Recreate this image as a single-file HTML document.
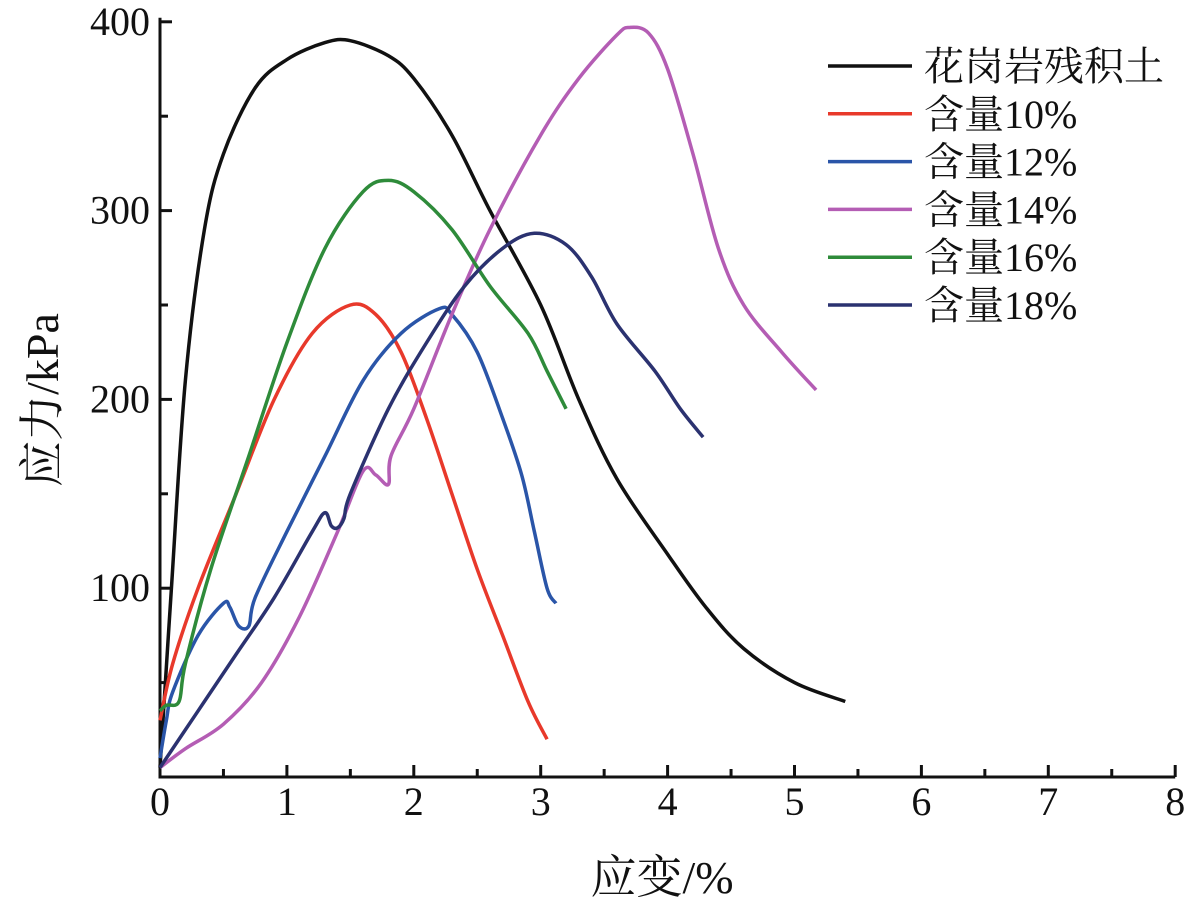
<!DOCTYPE html>
<html><head><meta charset="utf-8"><style>
body{margin:0;background:#fff}
svg{display:block}
text{font-family:"Liberation Serif","Times New Roman","Noto Serif CJK SC",serif;fill:#111}
</style></head><body>
<svg id="c" width="1194" height="908"></svg>
<script>
const xTicks=[0,1,2,3,4,5,6,7,8];
const yTicks=[100,200,300,400];
const seriesNames=["花岗岩残积土","含量10%","含量12%","含量14%","含量16%","含量18%"];
const seriesColors=["#111111","#e8392b","#2a55a8","#b45db4","#2e8b3a","#2b3270"];
const sGranite=[[0,5],[0.09,100],[0.2,210],[0.35,290],[0.5,330],[0.75,365],[1,380],[1.3,389],[1.5,390],[1.8,382],[2,370],[2.3,340],[2.6,300],[3,250],[3.3,200],[3.6,158],[4,118],[4.3,90],[4.6,68],[5,50],[5.4,40]];
const s10=[[0,30],[0.1,60],[0.3,100],[0.6,150],[0.9,200],[1.2,235],[1.5,250],[1.7,245],[1.9,225],[2.1,190],[2.3,150],[2.5,110],[2.7,75],[2.9,40],[3.05,20]];
const s12=[[0,10],[0.05,30],[0.1,45],[0.3,75],[0.5,92],[0.55,90],[0.62,80],[0.7,80],[0.75,95],[1,130],[1.3,170],[1.6,210],[1.9,235],[2.2,248],[2.3,245],[2.5,225],[2.7,190],[2.85,160],[2.95,130],[3.05,100],[3.12,92]];
const s14=[[0,5],[0.2,15],[0.5,28],[0.8,50],[1.1,85],[1.4,130],[1.6,162],[1.7,160],[1.8,155],[1.82,170],[2,195],[2.3,245],[2.6,290],[3,340],[3.3,370],[3.6,393],[3.7,397],[3.85,394],[4,375],[4.2,330],[4.4,280],[4.6,250],[4.9,225],[5.17,205]];
const s16=[[0,35],[0.05,38],[0.15,40],[0.2,60],[0.4,110],[0.7,170],[1,230],[1.3,280],[1.6,310],[1.8,316],[2,310],[2.3,290],[2.6,260],[2.9,235],[3.05,215],[3.2,195]];
const s18=[[0,5],[0.3,35],[0.6,65],[0.9,95],[1.2,130],[1.3,140],[1.35,133],[1.4,132],[1.45,137],[1.5,150],[1.8,195],[2.1,230],[2.4,260],[2.7,280],[2.95,288],[3.2,282],[3.4,265],[3.6,240],[3.9,215],[4.1,195],[4.28,180]];
const allSeries=[sGranite,s10,s12,s14,s16,s18];

const NS="http://www.w3.org/2000/svg";
const svg=document.getElementById('c');
const X0=160,XS=126.9,Y0=777,YS=1.888;
const sx=v=>X0+v*XS, sy=v=>Y0-v*YS;
function mk(t,a,p){const e=document.createElementNS(NS,t);for(const k in a)e.setAttribute(k,a[k]);(p||svg).appendChild(e);return e;}
function smooth(pts){
 let d=`M${pts[0][0]},${pts[0][1]}`;
 for(let i=0;i<pts.length-1;i++){
  const p0=pts[Math.max(0,i-1)],p1=pts[i],p2=pts[i+1],p3=pts[Math.min(pts.length-1,i+2)];
  const k=1/6;
  d+=` C${p1[0]+(p2[0]-p0[0])*k},${p1[1]+(p2[1]-p0[1])*k} ${p2[0]-(p3[0]-p1[0])*k},${p2[1]-(p3[1]-p1[1])*k} ${p2[0]},${p2[1]}`;
 }
 return d;
}

let ax=mk('path',{d:`M${sx(0)},${sy(400)-4}V${Y0}H${sx(8)}`,fill:'none',stroke:'#111','stroke-width':3});


for(let i=0;i<=16;i++){const v=i/2;const L=i%2?8:12;
 let t=mk('line',{x1:sx(v),x2:sx(v),y1:Y0,y2:Y0-L,stroke:'#111','stroke-width':3});
 
 }
for(let i=1;i<=8;i++){const v=i*50;const L=i%2?8:12;
 let t=mk('line',{x1:X0,x2:X0+L,y1:sy(v),y2:sy(v),stroke:'#111','stroke-width':3});
 
 }
xTicks.forEach(v=>{let t=mk('text',{x:sx(v),y:815,'text-anchor':'middle','font-size':40});t.textContent=v;
 
 });
yTicks.forEach(v=>{let t=mk('text',{x:150,y:sy(v)+13,'text-anchor':'end','font-size':40});t.textContent=v;
 
 });
let xt=mk('text',{x:662,y:893,'text-anchor':'middle','font-size':46});xt.textContent='应变/%';


let yt=mk('text',{x:0,y:0,'text-anchor':'middle','font-size':46,transform:'translate(58,400) rotate(-90)'});yt.textContent='应力/kPa';



allSeries.forEach((s,i)=>{
 let p=mk('path',{d:smooth(s.map(d=>[sx(d[0]),sy(d[1])])),fill:'none',stroke:seriesColors[i],'stroke-width':3.5,'stroke-linejoin':'round'});
 
 
 const ly=66+i*47.8;
 let g=mk('g',{});
 
 
 mk('line',{x1:828,x2:912,y1:ly,y2:ly,stroke:seriesColors[i],'stroke-width':3.5},g);
 let t=mk('text',{x:924,y:ly+14,'font-size':40},g);t.textContent=seriesNames[i];
});
</script>
</body></html>
